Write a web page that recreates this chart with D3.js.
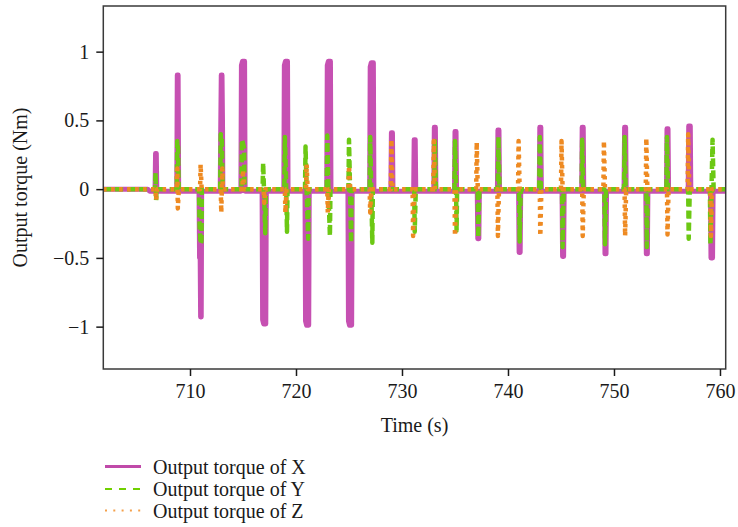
<!DOCTYPE html>
<html><head><meta charset="utf-8">
<script src="https://cdn.jsdelivr.net/npm/d3@7"></script>
<style>
html,body{margin:0;padding:0;background:#fff;}
text{font-family:"Liberation Serif","Times New Roman",serif;fill:#1a1a1a;}
</style></head>
<body><svg id="chart" width="738" height="527"></svg>
<script>
// ---- data ----
const xTicks = [710, 720, 730, 740, 750, 760];
const yTicks = [-1, -0.5, 0, 0.5, 1];
const yTickLabels = ["\u22121", "\u22120.5", "0", "0.5", "1"];
const seriesNames = ["Output torque of X", "Output torque of Y", "Output torque of Z"];

// [time (s), torque (Nm)]
const torqueX = [
 [701.8,0],[706.0,0],[706.2,-0.015],
 [706.7,-0.015],[706.75,0.26],[706.82,0.26],[706.87,-0.015],
 [708.75,-0.015],[708.8,0.83],[708.88,0.83],[708.93,-0.015],
 [710.85,-0.015],[710.9,-0.5],[710.96,-0.5],[711.0,-0.93],[711.06,-0.93],[711.1,-0.015],
 [712.85,-0.015],[712.9,0.45],[712.95,0.83],[713.02,0.83],[713.07,0.45],[713.1,-0.015],
 [714.8,-0.015],[714.85,0.9],[714.95,0.93],[715.15,0.93],[715.2,-0.015],
 [716.8,-0.015],[716.85,-0.95],[716.95,-0.98],[717.15,-0.98],[717.2,-0.015],
 [718.85,-0.015],[718.9,0.9],[719.0,0.93],[719.2,0.93],[719.25,-0.015],
 [720.85,-0.015],[720.9,-0.96],[721.0,-0.99],[721.2,-0.99],[721.25,-0.015],
 [722.9,-0.015],[722.95,0.9],[723.05,0.93],[723.25,0.93],[723.3,-0.015],
 [724.9,-0.015],[724.95,-0.96],[725.05,-0.99],[725.25,-0.99],[725.3,-0.015],
 [726.95,-0.015],[727.0,0.89],[727.1,0.92],[727.3,0.92],[727.35,-0.015],
 [728.95,-0.015],[729.0,0.41],[729.1,0.41],[729.15,-0.015],
 [731.1,-0.015],[731.15,0.36],[731.25,0.36],[731.3,-0.015],
 [733.0,-0.015],[733.05,0.45],[733.15,0.45],[733.2,-0.015],
 [734.95,-0.015],[735.0,0.42],[735.1,0.42],[735.15,-0.015],
 [737.1,-0.015],[737.15,-0.36],[737.25,-0.36],[737.3,-0.015],
 [739.0,-0.015],[739.05,0.43],[739.15,0.43],[739.2,-0.015],
 [741.0,-0.015],[741.05,-0.46],[741.15,-0.46],[741.2,-0.015],
 [742.95,-0.015],[743.0,0.45],[743.1,0.45],[743.15,-0.015],
 [745.1,-0.015],[745.15,-0.49],[745.25,-0.49],[745.3,-0.015],
 [746.95,-0.015],[747.0,0.45],[747.1,0.45],[747.15,-0.015],
 [749.1,-0.015],[749.15,-0.47],[749.25,-0.47],[749.3,-0.015],
 [750.95,-0.015],[751.0,0.45],[751.1,0.45],[751.15,-0.015],
 [753.0,-0.015],[753.05,-0.47],[753.15,-0.47],[753.2,-0.015],
 [754.95,-0.015],[755.0,0.44],[755.1,0.44],[755.15,-0.015],
 [757.0,-0.015],[757.05,0.46],[757.2,0.46],[757.25,-0.015],
 [759.1,-0.015],[759.15,-0.50],[759.3,-0.50],[759.35,-0.015],
 [760.6,-0.015]
];
const torqueY = [
 [701.8,0],
 [706.7,0],[706.75,0.12],[706.8,-0.08],[706.85,0],
 [708.75,0],[708.8,0.35],[708.88,0.3],[708.93,0],
 [710.85,0],[710.9,-0.25],[711.0,-0.4],[711.08,-0.38],[711.12,0],
 [712.85,0],[712.9,0.4],[713.0,0.38],[713.08,0],
 [714.85,0],[714.9,0.36],[715.1,0.3],[715.15,0],
 [716.85,0],[716.9,0.19],[717.0,-0.05],[717.1,-0.32],[717.15,0],
 [718.9,0],[718.95,0.38],[719.05,0.1],[719.15,-0.31],[719.2,0],
 [720.85,0],[720.9,0.31],[721.0,0],[721.15,-0.36],[721.2,0],
 [722.9,0],[722.95,0.39],[723.05,0],[723.2,-0.34],[723.25,0],
 [724.95,0],[725.0,0.36],[725.1,0],[725.2,-0.39],[725.25,0],
 [726.95,0],[727.0,0.38],[727.1,0],[727.2,-0.39],[727.25,0],
 [731.15,0],[731.2,-0.31],[731.3,0],
 [733.05,0],[733.1,0.35],[733.2,0],
 [734.95,0],[735.0,0.35],[735.1,0],[735.15,-0.3],[735.2,0],
 [737.15,0],[737.2,-0.35],[737.3,0],
 [739.05,0],[739.1,0.38],[739.2,0],
 [741.05,0],[741.1,-0.38],[741.2,0],
 [742.95,0],[743.0,0.38],[743.1,0],
 [745.1,0],[745.15,-0.42],[745.25,0],
 [746.95,0],[747.0,0.36],[747.1,0],
 [749.1,0],[749.15,-0.40],[749.25,0],
 [750.95,0],[751.0,0.38],[751.1,0],
 [753.05,0],[753.1,-0.42],[753.2,0],
 [754.95,0],[755.0,0.38],[755.1,0],
 [757.0,0],[757.05,-0.36],[757.15,0],
 [759.05,0],[759.1,-0.40],[759.2,0],[759.3,0.36],[759.4,0],
 [760.6,0]
];
const torqueZ = [
 [701.8,0],
 [706.75,0],[706.8,-0.08],[706.9,0],
 [708.75,0],[708.8,0.15],[708.85,-0.14],[708.95,0],
 [710.95,0],[711.0,0.18],[711.1,0],
 [712.9,0],[712.95,-0.17],[713.05,0.15],[713.1,0],
 [714.95,0],[715.0,0.14],[715.1,0],
 [716.95,0],[717.0,-0.10],[717.1,0],
 [718.95,0],[719.0,-0.17],[719.1,0],
 [720.95,0],[721.0,0.18],[721.1,0],
 [722.95,0],[723.0,-0.17],[723.1,0],
 [724.95,0],[725.0,0.17],[725.1,0],
 [726.95,0],[727.0,-0.17],[727.1,0],
 [728.95,0],[729.0,0.36],[729.1,0],
 [731.0,0],[731.05,-0.34],[731.15,0],
 [732.95,0],[733.0,0.35],[733.1,0],
 [734.95,0],[735.0,-0.34],[735.1,0],
 [737.0,0],[737.05,0.34],[737.15,0],
 [739.0,0],[739.05,-0.34],[739.15,0],
 [740.95,0],[741.0,0.35],[741.1,0],
 [743.0,0],[743.05,-0.34],[743.15,0],
 [745.0,0],[745.05,0.35],[745.15,0],
 [747.0,0],[747.05,-0.34],[747.15,0],
 [749.0,0],[749.05,0.35],[749.15,0],
 [751.0,0],[751.05,-0.34],[751.15,0],
 [753.0,0],[753.05,0.37],[753.15,0],
 [755.0,0],[755.05,-0.33],[755.15,0],
 [756.95,0],[757.0,0.40],[757.1,0],
 [759.1,0],[759.15,-0.34],[759.25,0],
 [760.6,0]
];

// ---- layout ----
const svg = d3.select("#chart");
const L = 103.3, R = 725.7, T = 6, B = 369;
const x = d3.scaleLinear().domain([701.82, 760.54]).range([L, R]);
const y = d3.scaleLinear().domain([-1.308, 1.332]).range([B, T]);

svg.append("defs").append("clipPath").attr("id","clip")
  .append("rect").attr("x",L).attr("y",T).attr("width",R-L).attr("height",B-T);

const line = d3.line().x(d=>x(d[0])).y(d=>y(d[1]));
const g = svg.append("g").attr("clip-path","url(#clip)");
const styles = [
  {data:torqueX, color:"#c650b2", w:5, dash:null},
  {data:torqueY, color:"#6cc814", w:4.5, dash:"8,4"},
  {data:torqueZ, color:"#ee8a22", w:4.5, dash:"3.5,4.5"}
];
styles.forEach(s=>{
  g.append("path").datum(s.data).attr("d",line)
   .attr("fill","none").attr("stroke",s.color).attr("stroke-width",s.w)
   .attr("stroke-linejoin","round")
   .attr("stroke-dasharray",s.dash);
});

// frame
svg.append("rect").attr("x",L).attr("y",T).attr("width",R-L).attr("height",B-T)
  .attr("fill","none").attr("stroke","#3a3a3a").attr("stroke-width",1.5);

// axes
const xAxis = d3.axisBottom(x).tickValues(xTicks).tickSize(7).tickPadding(8).tickFormat(d3.format("d"));
const gx = svg.append("g").attr("transform",`translate(0,${B})`).call(xAxis);
const yAxis = d3.axisLeft(y).tickValues(yTicks).tickSize(7).tickPadding(7)
  .tickFormat((d,i)=>yTickLabels[i]);
const gy = svg.append("g").attr("transform",`translate(${L},0)`).call(yAxis);
[gx,gy].forEach(a=>{
  a.select(".domain").remove();
  a.selectAll(".tick line").attr("stroke","#1a1a1a").attr("stroke-width",1.5);
  a.selectAll(".tick text").style("font-family",'"Liberation Serif",serif').style("font-size","20px").attr("fill","#1a1a1a");
});

svg.append("text").attr("x",(L+R)/2).attr("y",432).attr("text-anchor","middle")
  .style("font-size","20px").text("Time (s)");
svg.append("text").attr("transform",`translate(27,${(T+B)/2}) rotate(-90)`)
  .attr("text-anchor","middle").style("font-size","20px").text("Output torque (Nm)");

// legend
const legY = [466.5, 489, 510.5];
const legStyle = [
  {color:"#c04aa9", w:3, dash:null},
  {color:"#70d000", w:2, dash:"7,7"},
  {color:"#f4a04a", w:2, dash:"2,6.3"}
];
seriesNames.forEach((n,i)=>{
  svg.append("line").attr("x1",105).attr("x2",141).attr("y1",legY[i]).attr("y2",legY[i])
    .attr("stroke",legStyle[i].color).attr("stroke-width",legStyle[i].w)
    .attr("stroke-dasharray",legStyle[i].dash);
  svg.append("text").attr("x",153).attr("y",legY[i]+7).style("font-size","20px").text(n);
});
</script></body></html>
